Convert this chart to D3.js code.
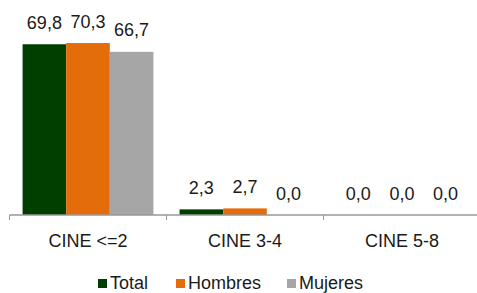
<!DOCTYPE html>
<html lang="es">
<head>
  <meta charset="UTF-8">
  <title>CINE</title>
  <script src="https://cdnjs.cloudflare.com/ajax/libs/d3/7.8.5/d3.min.js"></script>
  <style>
    body {
      margin: 0;
      background: white;
    }
    svg {
      display: block;
      font-family: "Liberation Sans", Arial, sans-serif;
    }
    .bar-label {
      text-anchor: middle;
      font-size: 18px;
      fill: #1a1a1a;
    }
    .cat-label {
      text-anchor: middle;
      font-size: 18px;
      fill: #1a1a1a;
    }
    .legend-label {
      font-size: 18px;
      fill: #1a1a1a;
    }
  </style>
</head>
<body>
  <script>
    var categories = ["CINE <=2", "CINE 3-4", "CINE 5-8"];
    var series = ["Total", "Hombres", "Mujeres"];
    var total = [69.8, 2.3, 0.0];
    var hombres = [70.3, 2.7, 0.0];
    var mujeres = [66.7, 0.0, 0.0];
    var colors = ["#003f00", "#e46c0a", "#a6a6a6"];

    var w = 477;
    var h = 293;
    var values = [total, hombres, mujeres];

    var svg = d3.select("body").append("svg")
      .attr("width", w)
      .attr("height", h);

    var x0 = d3.scaleBand()
      .domain(categories)
      .range([9.5, 480.5]);

    var x1 = d3.scaleBand()
      .domain(series)
      .range([0, x0.bandwidth()])
      .paddingOuter(0.3);

    var yScale = d3.scaleLinear()
      .domain([0, 80])
      .range([215, 19.3]);

    var fmt = function(v) {
      return d3.format(".1f")(v).replace(".", ",");
    };

    var rows = [];
    categories.forEach(function(c, i) {
      series.forEach(function(s, j) {
        rows.push({ cat: c, ser: s, v: values[j][i], color: colors[j] });
      });
    });

    svg.selectAll(".bar")
      .data(rows)
      .enter()
      .append("rect")
      .attr("class", "bar")
      .attr("x", function(d) { return x0(d.cat) + x1(d.ser); })
      .attr("y", function(d) { return yScale(d.v); })
      .attr("width", x1.bandwidth())
      .attr("height", function(d) { return yScale(0) - yScale(d.v); })
      .attr("fill", function(d) { return d.color; });

    svg.selectAll(".bar-label")
      .data(rows)
      .enter()
      .append("text")
      .attr("class", "bar-label")
      .attr("x", function(d) { return x0(d.cat) + x1(d.ser) + x1.bandwidth() / 2; })
      .attr("y", function(d) { return yScale(d.v) - 15.5; })
      .text(function(d) { return fmt(d.v); });

    // category axis
    var axis = svg.append("g")
      .attr("transform", "translate(0," + yScale(0) + ")");

    axis.append("line")
      .attr("x1", x0.range()[0])
      .attr("x2", x0.range()[1])
      .attr("stroke", "#999")
      .attr("stroke-width", 1.5);

    axis.selectAll(".tick")
      .data(categories.concat([null]))
      .enter()
      .append("line")
      .attr("x1", function(d) { return d === null ? x0.range()[1] : x0(d); })
      .attr("x2", function(d) { return d === null ? x0.range()[1] : x0(d); })
      .attr("y1", 0)
      .attr("y2", 5)
      .attr("stroke", "#999");

    axis.selectAll(".cat-label")
      .data(categories)
      .enter()
      .append("text")
      .attr("class", "cat-label")
      .attr("x", function(d) { return x0(d) + x0.bandwidth() / 2; })
      .attr("y", 32)
      .text(function(d) { return d; });

    // legend
    var legendX = [98, 176, 287];
    var legend = svg.selectAll(".legend")
      .data(series)
      .enter()
      .append("g")
      .attr("transform", function(d, i) { return "translate(" + legendX[i] + ",279)"; });

    legend.append("rect")
      .attr("width", 9)
      .attr("height", 9)
      .attr("fill", function(d, i) { return colors[i]; });

    legend.append("text")
      .attr("class", "legend-label")
      .attr("x", 12)
      .attr("y", 10)
      .text(function(d) { return d; });
  </script>
</body>
</html>
